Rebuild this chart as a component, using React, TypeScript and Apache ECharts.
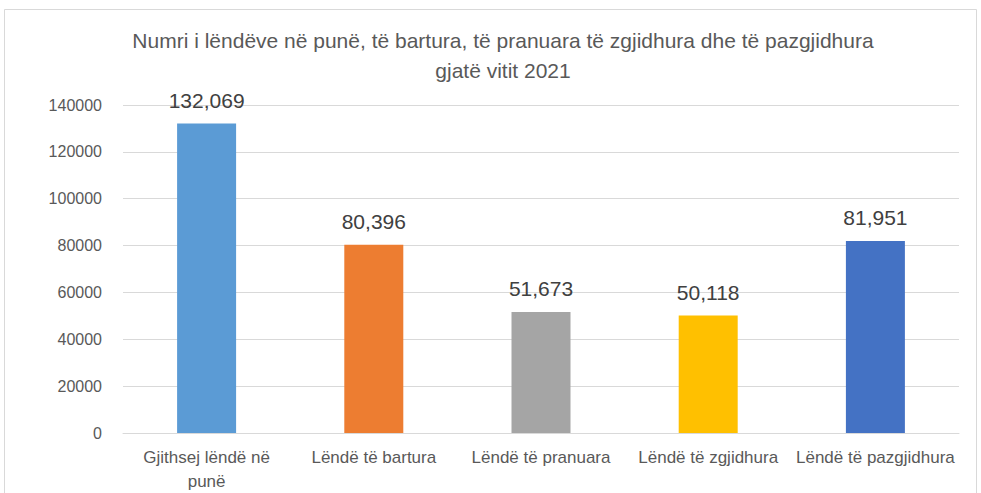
import React, { useEffect, useRef } from "react";
import * as echarts from "echarts";

const categories = [
  "Gjithsej lëndë në\npunë",
  "Lëndë të bartura",
  "Lëndë të pranuara",
  "Lëndë të zgjidhura",
  "Lëndë të pazgjidhura",
];
const values = [132069, 80396, 51673, 50118, 81951];
const colors = ["#5B9BD5", "#ED7D31", "#A5A5A5", "#FFC000", "#4472C4"];
const titleText =
  "Numri i lëndëve në punë, të bartura, të pranuara të zgjidhura dhe të pazgjidhura\ngjatë vitit 2021";

const FONT = "'Liberation Sans', 'DejaVu Sans', sans-serif";

export default function App() {
  const ref = useRef<HTMLDivElement>(null);
  useEffect(() => {
    if (!ref.current) return;
    const chart = echarts.init(ref.current, undefined, { renderer: "svg" });
    chart.setOption({
      animation: false,
      backgroundColor: "#ffffff",
      graphic: [
        {
          type: "rect",
          shape: { x: 4.5, y: 9.5, width: 972, height: 500 },
          style: { fill: "none", stroke: "#d9d9d9", lineWidth: 1 },
          silent: true,
        },
      ],
      title: {
        text: titleText,
        left: 498,
        textAlign: "center",
        top: 20,
        textStyle: {
          fontFamily: FONT,
          fontSize: 21,
          fontWeight: "normal",
          color: "#595959",
          lineHeight: 30,
        },
      },
      grid: { left: 123, right: 22, top: 105, bottom: 58 },
      xAxis: {
        type: "category",
        data: categories,
        axisLine: { lineStyle: { color: "#d9d9d9" } },
        axisTick: { show: false },
        axisLabel: {
          color: "#595959",
          fontFamily: FONT,
          fontSize: 17,
          lineHeight: 24,
          margin: 12,
          interval: 0,
        },
      },
      yAxis: {
        type: "value",
        min: 0,
        max: 140000,
        interval: 20000,
        axisLine: { show: false },
        axisTick: { show: false },
        splitLine: { lineStyle: { color: "#d9d9d9" } },
        axisLabel: {
          color: "#595959",
          fontFamily: FONT,
          fontSize: 16,
          margin: 21,
          formatter: (v: number) => String(v),
        },
      },
      series: [
        {
          type: "bar",
          data: values.map((v, i) => ({ value: v, itemStyle: { color: colors[i] } })),
          barWidth: 59,
          label: {
            show: true,
            position: "top",
            distance: 13,
            color: "#404040",
            fontFamily: FONT,
            fontSize: 21,
            formatter: (p: any) => Number(p.value).toLocaleString("en-US"),
          },
        },
      ],
    });
    return () => chart.dispose();
  }, []);
  return (
    <div
      ref={ref}
      style={{ position: "absolute", left: 0, top: 0, width: 981, height: 493 }}
    />
  );
}
